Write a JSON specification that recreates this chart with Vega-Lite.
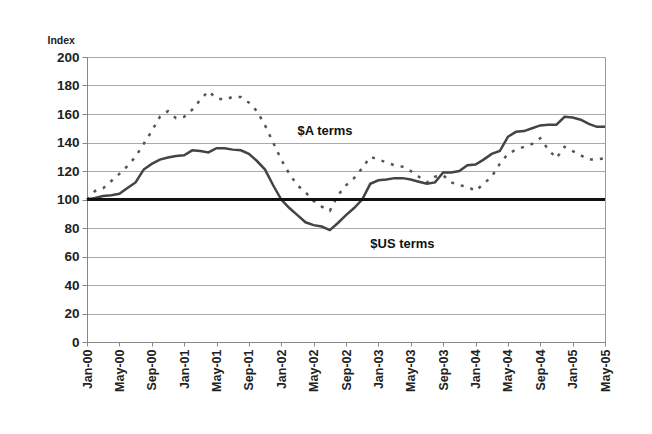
{
  "$schema": "https://vega.github.io/schema/vega-lite/v6.json",
  "autosize": {"type": "none"},
  "padding": {"left": 87, "top": 57, "right": 47, "bottom": 92},
  "width": 518,
  "height": 285,
  "background": "white",
  "config": {
    "view": {"stroke": "#999999", "strokeWidth": 1},
    "font": "Liberation Sans",
    "axisY": {
      "titleAngle": 0, "titleAlign": "left", "titleBaseline": "bottom",
      "titleX": -40, "titleY": -12, "titleFont": "Liberation Sans", "titleFontSize": 10.5, "titleFontWeight": "bold", "titleColor": "#222222",
      "labelOverlap": false,
      "labelFont": "Liberation Sans", "labelFontWeight": "bold", "labelFontSize": 13.5, "labelColor": "#222222",
      "labelPadding": 3, "tickSize": 5, "tickColor": "#888888", "domainColor": "#888888",
      "grid": true, "gridColor": "#aaaaaa", "gridWidth": 1
    }
  },
  "datasets": {
    "series": [
      {"month": "Jan-00", "us": 100, "a": 100},
      {"month": "Feb-00", "us": 101, "a": 106},
      {"month": "Mar-00", "us": 102.5, "a": 108},
      {"month": "Apr-00", "us": 103, "a": 113},
      {"month": "May-00", "us": 104, "a": 118},
      {"month": "Jun-00", "us": 108, "a": 123.5},
      {"month": "Jul-00", "us": 112, "a": 130},
      {"month": "Aug-00", "us": 121, "a": 139},
      {"month": "Sep-00", "us": 125, "a": 148},
      {"month": "Oct-00", "us": 128, "a": 158},
      {"month": "Nov-00", "us": 129.5, "a": 162},
      {"month": "Dec-00", "us": 130.5, "a": 157},
      {"month": "Jan-01", "us": 131, "a": 158},
      {"month": "Feb-01", "us": 134.5, "a": 163},
      {"month": "Mar-01", "us": 134, "a": 170},
      {"month": "Apr-01", "us": 133, "a": 176},
      {"month": "May-01", "us": 136, "a": 171},
      {"month": "Jun-01", "us": 136, "a": 170},
      {"month": "Jul-01", "us": 135, "a": 172},
      {"month": "Aug-01", "us": 134.5, "a": 172},
      {"month": "Sep-01", "us": 132, "a": 168},
      {"month": "Oct-01", "us": 127, "a": 162},
      {"month": "Nov-01", "us": 121, "a": 152},
      {"month": "Dec-01", "us": 110, "a": 140},
      {"month": "Jan-02", "us": 100, "a": 128},
      {"month": "Feb-02", "us": 94, "a": 118},
      {"month": "Mar-02", "us": 89, "a": 110},
      {"month": "Apr-02", "us": 84, "a": 105},
      {"month": "May-02", "us": 82, "a": 99},
      {"month": "Jun-02", "us": 81, "a": 95},
      {"month": "Jul-02", "us": 78.5, "a": 92},
      {"month": "Aug-02", "us": 83.5, "a": 103},
      {"month": "Sep-02", "us": 89, "a": 110},
      {"month": "Oct-02", "us": 94, "a": 115},
      {"month": "Nov-02", "us": 100, "a": 122},
      {"month": "Dec-02", "us": 111, "a": 130},
      {"month": "Jan-03", "us": 113.5, "a": 128},
      {"month": "Feb-03", "us": 114, "a": 126},
      {"month": "Mar-03", "us": 115, "a": 124},
      {"month": "Apr-03", "us": 115, "a": 123},
      {"month": "May-03", "us": 114, "a": 120},
      {"month": "Jun-03", "us": 112.5, "a": 116},
      {"month": "Jul-03", "us": 111, "a": 112},
      {"month": "Aug-03", "us": 112, "a": 116},
      {"month": "Sep-03", "us": 119, "a": 117},
      {"month": "Oct-03", "us": 119, "a": 112},
      {"month": "Nov-03", "us": 120, "a": 110},
      {"month": "Dec-03", "us": 124, "a": 109},
      {"month": "Jan-04", "us": 124.5, "a": 106},
      {"month": "Feb-04", "us": 128, "a": 111},
      {"month": "Mar-04", "us": 132, "a": 116},
      {"month": "Apr-04", "us": 134, "a": 125},
      {"month": "May-04", "us": 144, "a": 132},
      {"month": "Jun-04", "us": 147.5, "a": 135},
      {"month": "Jul-04", "us": 148, "a": 137},
      {"month": "Aug-04", "us": 150, "a": 139},
      {"month": "Sep-04", "us": 152, "a": 143},
      {"month": "Oct-04", "us": 152.5, "a": 135},
      {"month": "Nov-04", "us": 152.5, "a": 129},
      {"month": "Dec-04", "us": 158, "a": 137},
      {"month": "Jan-05", "us": 157.5, "a": 134},
      {"month": "Feb-05", "us": 156, "a": 131},
      {"month": "Mar-05", "us": 153, "a": 128},
      {"month": "Apr-05", "us": 151, "a": 128},
      {"month": "May-05", "us": 151, "a": 129}
    ],
    "labels": [
      {"month": "Mar-02", "value": 148, "label": "$A terms"},
      {"month": "Dec-02", "value": 69, "label": "$US terms"}
    ]
  },
  "data": {"name": "series"},
  "encoding": {
    "x": {
      "field": "month", "type": "ordinal", "sort": null,
      "scale": {"type": "point", "padding": 0},
      "axis": {
        "title": null,
        "values": ["Jan-00","May-00","Sep-00","Jan-01","May-01","Sep-01","Jan-02","May-02","Sep-02","Jan-03","May-03","Sep-03","Jan-04","May-04","Sep-04","Jan-05","May-05"],
        "labelAngle": 270, "labelAlign": "right", "labelBaseline": "middle",
        "labelFont": "Liberation Sans", "labelFontWeight": "bold", "labelFontSize": 12.5, "labelColor": "#222222",
        "labelPadding": 3, "tickSize": 4, "tickColor": "#888888", "domainColor": "#888888", "grid": false, "labelOverlap": false
      }
    }
  },
  "layer": [
    {
      "mark": {"type": "line", "color": "#555555", "strokeWidth": 2.5, "strokeDash": [3, 7]},
      "encoding": {
        "y": {"field": "a", "type": "quantitative", "scale": {"domain": [0, 200]},
          "axis": {"title": "Index", "values": [0,20,40,60,80,100,120,140,160,180,200]}}
      }
    },
    {
      "mark": {"type": "line", "color": "#444444", "strokeWidth": 2.5, "interpolate": "linear"},
      "encoding": {
        "y": {"field": "us", "type": "quantitative", "scale": {"domain": [0, 200]},
          "axis": {"title": "Index", "values": [0,20,40,60,80,100,120,140,160,180,200]}}
      }
    },
    {
      "mark": {"type": "rule", "color": "#111111", "strokeWidth": 2.5},
      "encoding": {"x": null, "y": {"datum": 100, "type": "quantitative", "scale": {"domain": [0, 200]},
          "axis": {"title": "Index", "values": [0,20,40,60,80,100,120,140,160,180,200]}}}
    },
    {
      "data": {"name": "labels"},
      "mark": {"type": "text", "align": "left", "baseline": "middle", "font": "Liberation Sans", "fontWeight": "bold", "fontSize": 13, "color": "#111111"},
      "encoding": {
        "y": {"field": "value", "type": "quantitative", "scale": {"domain": [0, 200]},
          "axis": {"title": "Index", "values": [0,20,40,60,80,100,120,140,160,180,200]}},
        "text": {"field": "label"}
      }
    }
  ]
}
